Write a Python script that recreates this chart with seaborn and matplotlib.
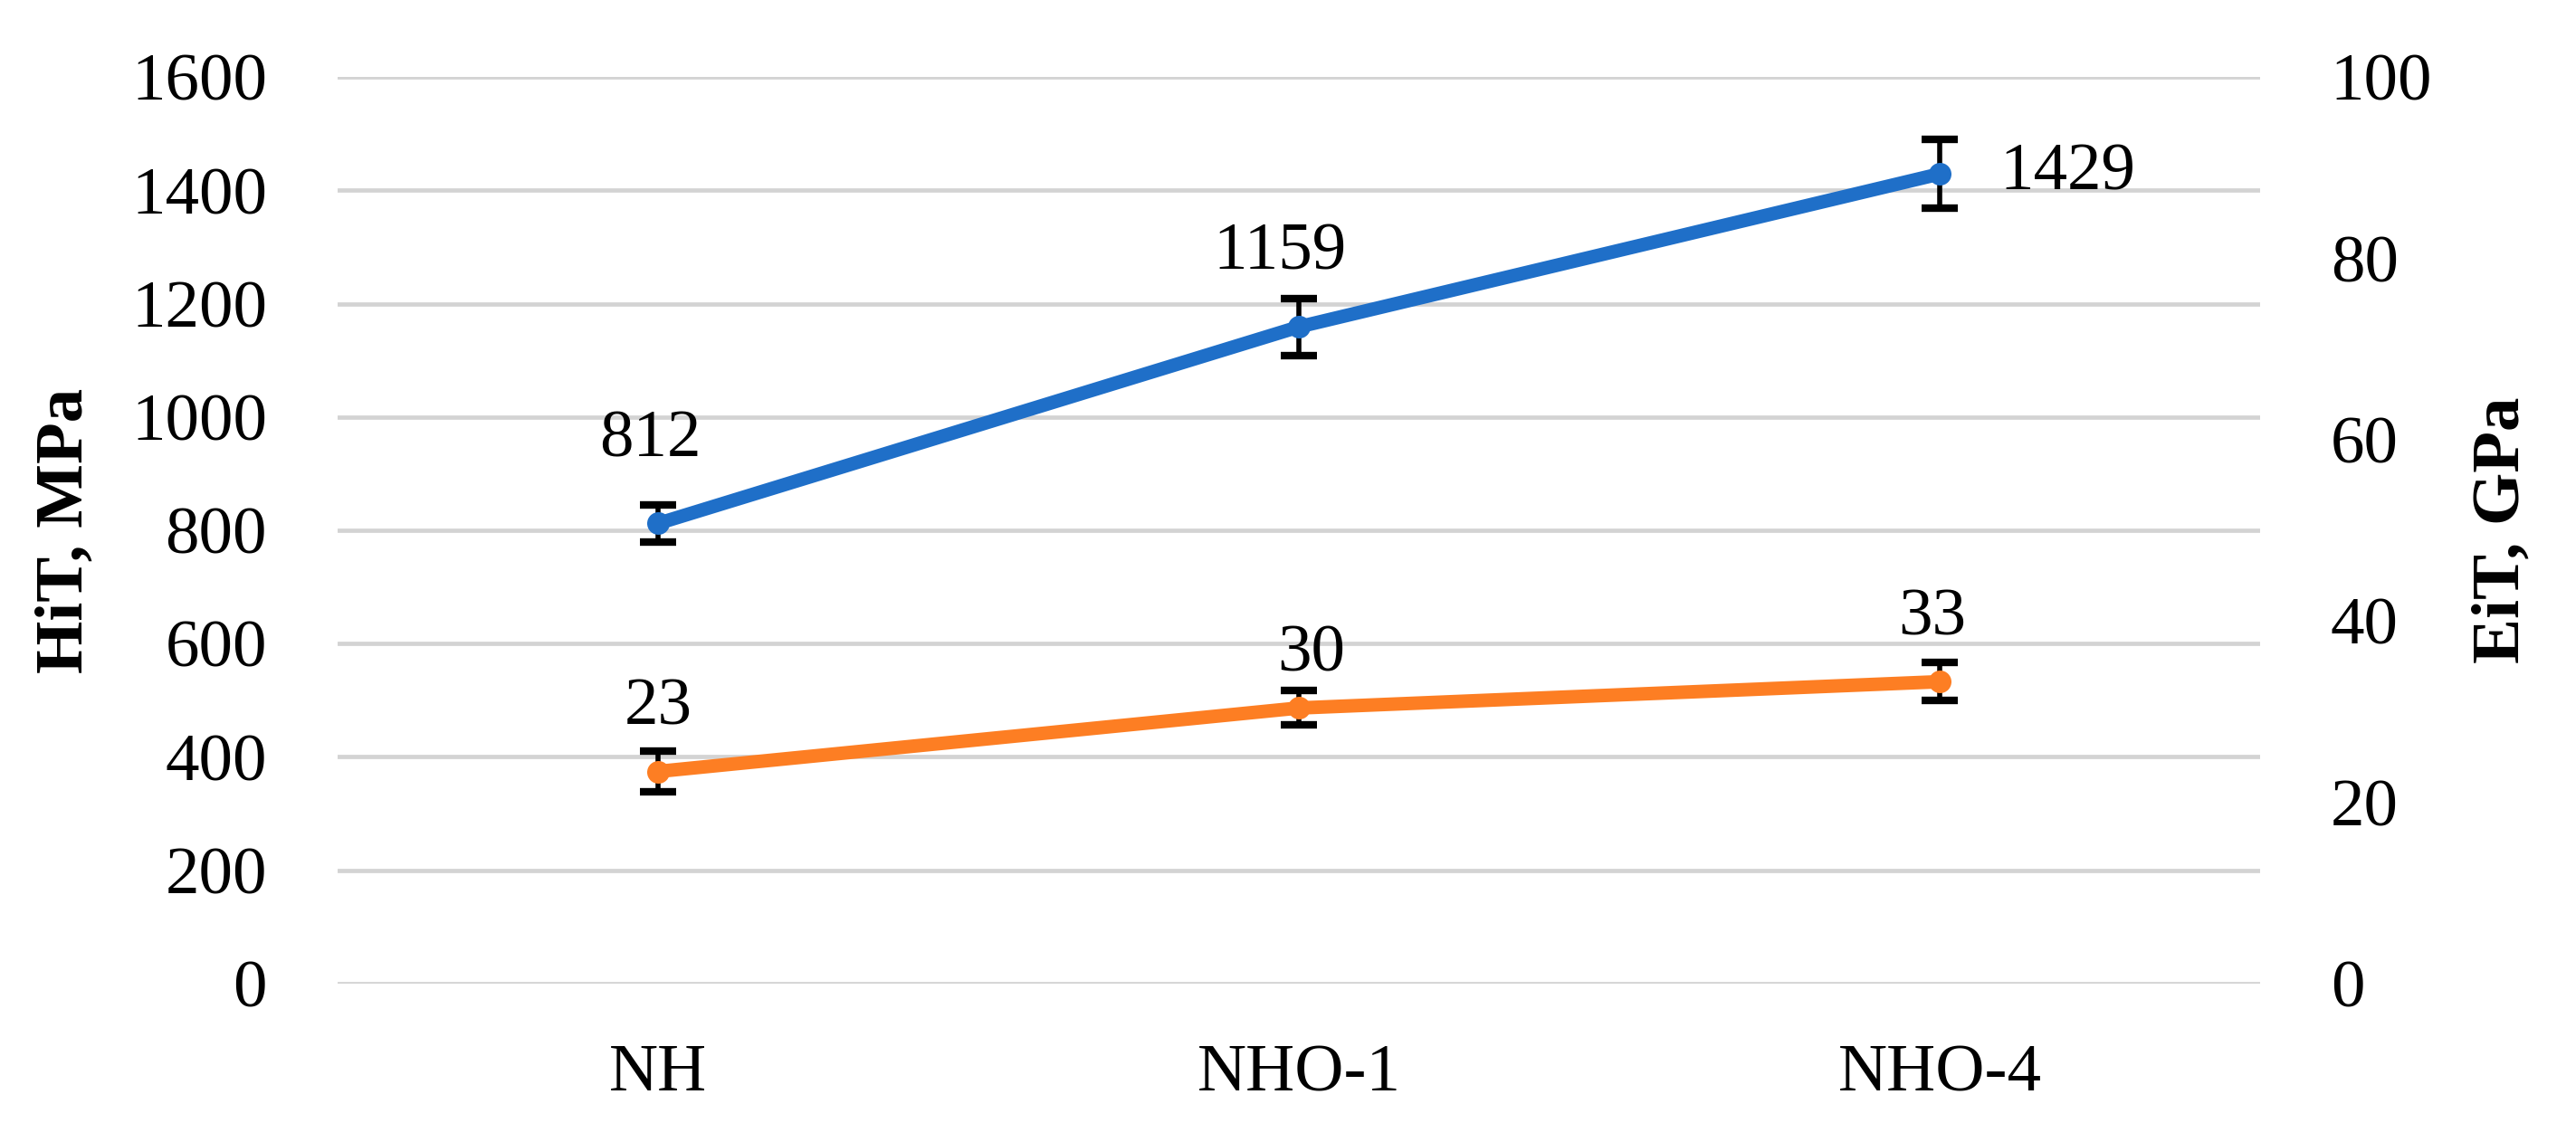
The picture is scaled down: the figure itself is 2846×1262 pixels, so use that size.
"""HiT and EiT of NH / NHO samples, dual axis line chart."""

import seaborn as sns
import matplotlib.pyplot as plt

# data
samples = ["NH", "NHO-1", "NHO-4"]
hit_mpa = [812, 1159, 1429]
hit_err = [33, 50, 61]
eit_gpa = [23.4, 30.4, 33.3]
eit_err = [2.2, 1.9, 2.1]

BLUE = "#1F6FC8"
ORANGE = "#FD7E23"
GRID = "#D3D3D3"

sns.set_theme(style="white")
plt.rcParams["font.family"] = ["Liberation Serif", "DejaVu Serif"]
plt.rcParams["text.color"] = "black"
plt.rcParams["axes.labelcolor"] = "black"
plt.rcParams["xtick.color"] = "black"
plt.rcParams["ytick.color"] = "black"

FS = 27

fig, ax = plt.subplots(figsize=(14.23, 6.31), dpi=200)
fig.subplots_adjust(left=0.131, right=0.8774, bottom=0.1387, top=0.9326)
ax2 = ax.twinx()

# error bars first so the markers sit on top
err_kw = dict(fmt="none", ecolor="black", elinewidth=2.0, capsize=7.2,
              capthick=3.0, zorder=2)
ax.errorbar(samples, hit_mpa, yerr=hit_err, **err_kw)
ax2.errorbar(samples, eit_gpa, yerr=eit_err, **err_kw)

line_kw = dict(sort=False, lw=5.4, marker="o", markersize=9,
               markeredgewidth=0, zorder=3)
sns.lineplot(x=samples, y=hit_mpa, ax=ax, color=BLUE, **line_kw)
sns.lineplot(x=samples, y=eit_gpa, ax=ax2, color=ORANGE, **line_kw)

# data labels (offsets in points)
hit_offsets = [((-3, 33), "center"), ((-7.5, 29.5), "center"), ((24, 0), "left")]
for s, v, (off, ha) in zip(samples, hit_mpa, hit_offsets):
    ax.annotate(f"{v:.0f}", (s, v), xytext=off, textcoords="offset points",
                ha=ha, va="center", fontsize=FS)
eit_offsets = [(0, 25), (5, 21), (-3, 25)]
for s, v, off in zip(samples, eit_gpa, eit_offsets):
    ax2.annotate(f"{v:.0f}", (s, v), xytext=off, textcoords="offset points",
                 ha="center", va="center", fontsize=FS)

ax.set_xlim(-0.5, 2.5)
ax.set_ylim(0, 1600)
ax.set_yticks(range(0, 1601, 200))
ax2.set_ylim(0, 100)
ax2.set_yticks(range(0, 101, 20))

ax.yaxis.grid(True, color=GRID, lw=1.7)
ax.set_axisbelow(True)
ax2.grid(False)

ax.tick_params(axis="y", length=0, pad=28, labelsize=FS)
ax.tick_params(axis="x", length=0, pad=24, labelsize=FS)
ax2.tick_params(axis="y", length=0, pad=28, labelsize=FS)

ax.set_ylabel("HiT, MPa", fontsize=FS, fontweight="bold")
ax.yaxis.set_label_coords(-0.1412, 0.5)
ax.yaxis.label.set_va("center")
ax2.set_ylabel("EiT, GPa", fontsize=FS, fontweight="bold", rotation=90)
ax2.yaxis.set_label_coords(1.1257, 0.5)
ax2.yaxis.label.set_va("center")

sns.despine(ax=ax, left=True, bottom=True)
sns.despine(ax=ax2, left=True, bottom=True, right=True)

fig.savefig("out.png", dpi=200)
